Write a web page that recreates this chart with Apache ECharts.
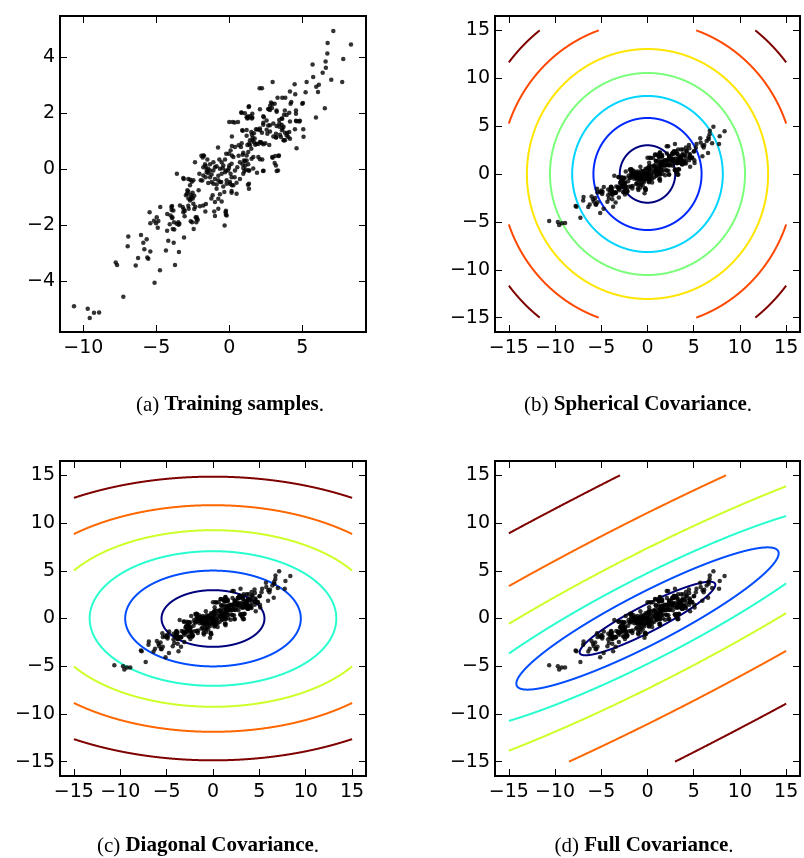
<!DOCTYPE html>
<html>
<head>
<meta charset="utf-8">
<script src="https://cdn.jsdelivr.net/npm/echarts@6/dist/echarts.min.js"></script>
<style>
  html, body { margin: 0; padding: 0; background: #fff; }
  #main { width: 804px; height: 858px; }
</style>
</head>
<body>
<div id="main"></div>
<script>
// training samples
var samples = [
  [-10.64,-4.91],[-9.70,-5.00],[-9.56,-5.33],[-9.27,-5.14],[-8.92,-5.13],
  [-7.26,-4.57],[-7.78,-3.34],[-7.69,-3.43],[-6.92,-2.41],[-6.96,-2.76],
  [-6.25,-3.18],[-6.41,-3.45],[-6.05,-2.36],[-5.89,-2.64],[-5.66,-2.51],
  [-5.82,-2.87],[-5.41,-2.95],[-5.62,-3.16],[-5.55,-3.21],[-5.12,-4.07],
  [-4.75,-3.62],[-5.46,-1.54],[-4.73,-1.36],[-5.41,-1.94],[-5.16,-1.85],
  [-5.02,-1.94],[-4.86,-1.86],[-4.90,-2.10],[-4.97,-1.72],[-4.34,-2.91],
  [-4.18,-2.56],[-3.81,-2.64],[-3.45,-2.97],[-3.72,-3.43],[-4.26,-2.21],
  [-3.87,-2.14],[-4.08,-1.97],[-4.25,-1.61],[-4.02,-1.66],[-3.90,-1.72],
  [-3.97,-1.36],[-3.95,-1.46],[-3.49,-1.90],[-3.42,-1.96],[-3.59,-0.17],
  [-3.12,-1.44],[-3.19,-1.36],[-3.05,-1.50],[-3.10,-2.45],[-2.81,-1.31],
  [-2.64,-1.87],[-2.44,-2.14],[-2.30,-1.72],[-2.26,-1.90],[-2.40,-1.43],
  [-2.80,-1.05],[-2.65,-1.07],[-2.50,-1.05],[-2.01,-1.33],[-1.64,-1.52],
  [-1.60,-1.25],[-3.12,-0.35],[-2.67,-0.38],[-2.57,-0.45],[-2.90,-0.88],
  [-2.81,-0.80],[-2.51,-0.85],[-2.40,-0.95],[-2.69,-1.12],[-2.10,-0.76],
  [-1.23,-1.05],[-1.03,-1.52],[-0.32,-2.02],[-0.23,-1.49],[-0.23,-1.63],
  [-2.16,-1.81],[-2.23,-1.72],[-3.47,-1.99],[-3.77,-2.16],
  [-3.15,-0.32],[-2.81,-0.35],[-2.46,-0.40],[-2.69,-0.58],[-2.87,-0.76],
  [-2.65,-0.92],[-2.97,-0.94],[-2.58,-1.00],[-2.46,-1.24],[-2.33,-1.35],
  [-2.78,-1.42],[-3.38,-1.30],[-3.92,-1.32],[-3.83,-1.48],[-3.15,-1.54],
  [-3.06,-1.69],[-3.92,-1.75],[-3.79,-1.90],[-3.60,-1.96],[-2.55,-1.90],
  [-2.24,-1.78],[-1.78,-1.30],[-0.98,-1.68],[-0.75,-1.42],[-1.14,-0.94],
  [-0.87,-0.70],[-0.98,-1.18],[-0.64,-0.90],[-0.34,-0.82],[-0.18,-0.40],
  [-0.55,-0.46],[-0.75,-0.40],[-1.21,-0.46],[-1.32,-0.29],[-1.55,-0.11],
  [-1.78,-0.23],[-1.96,-0.40],[-1.32,-0.05],[-0.98,0.07],[-0.64,0.01],
  [-0.41,0.13],[0.00,0.13],[-0.09,-0.05],[-0.29,-0.11],[0.39,-0.05],
  [0.05,-0.46],[0.18,-0.58],[0.50,-0.88],[0.16,-0.85],[-0.25,-1.54],
  [-0.18,-1.66],[-0.75,-1.06],[-0.52,-1.16],[-0.77,0.77],[-1.78,0.49],
  [-1.82,0.42],[-2.35,0.25],[-1.62,0.10],[-1.44,0.01],[0.18,0.83],
  [0.09,0.67],[-0.04,0.55],[0.18,0.49],[0.64,0.48],[0.92,0.51],
  [1.08,0.29],[1.10,0.13],[0.96,0.04],[1.03,-0.08],[1.33,-0.05],
  [1.99,0.43],[2.10,0.35],[2.35,-0.06],[2.95,0.43],[3.40,0.49],
  [3.20,0.13],[3.34,-0.05],[1.28,-0.56],[1.35,-0.70],[0.39,0.79],
  [0.64,0.85],[0.80,0.79],[0.96,0.59],[1.19,0.49],[1.30,0.61],
  [1.51,0.73],[1.42,0.85],[1.78,0.87],[1.99,0.90],[2.10,0.97],
  [2.24,0.93],[2.35,0.89],[1.55,1.23],[1.74,1.10],[1.60,1.02],
  [0.89,1.39],[1.19,1.40],[1.51,1.33],[1.69,1.28],[1.92,1.42],
  [2.10,1.45],[2.24,1.30],[3.47,1.23],[3.82,1.30],[4.04,1.15],
  [3.82,1.03],[4.16,1.09],[4.61,0.75],[4.61,1.71],[3.02,1.17],
  [2.56,1.41],[3.24,1.54],[3.43,1.63],[3.65,1.45],[0.00,1.69],
  [0.23,1.69],[0.60,1.69],[3.31,2.55],[3.63,2.55],[3.84,2.55],
  [2.86,2.38],[2.70,2.14],[2.79,2.12],[2.93,2.19],[4.25,2.40],
  [4.57,2.10],[4.11,2.02],[3.75,1.95],[3.59,1.81],[3.24,2.10],
  [2.10,2.14],[1.35,2.25],[0.85,2.02],[1.07,2.00],[1.44,1.90],
  [1.30,1.84],[1.55,1.81],[1.24,1.81],[2.37,1.86],[2.56,1.74],
  [2.33,1.66],[2.79,1.57],
  [7.13,4.94],[6.74,4.51],[8.34,4.46],[6.72,4.14],[7.81,3.94],
  [5.71,3.74],[6.60,3.85],[6.62,3.63],[6.40,3.45],[5.75,3.30],
  [6.99,3.20],[7.74,3.12],[5.30,3.12],[6.14,3.02],[5.96,2.95],
  [6.08,2.76],[5.23,2.75],[6.55,2.18],[5.94,1.85],[2.97,3.12],
  [4.48,3.04],[4.16,2.78],[4.52,2.68],[2.08,2.89],[2.24,2.89],
  [2.95,2.34],[2.80,2.27],[3.25,2.05],[3.81,2.10],[5.05,2.37],
  [4.57,1.98],[3.93,1.94],[3.63,1.80],[3.42,1.76],[4.57,1.73],
  [4.84,1.73],[4.50,1.43],[5.07,1.43],[5.09,1.16],[3.72,1.52],
  [3.97,1.29],[3.22,1.14],[3.54,1.15],[3.72,1.03],[3.15,0.47],
  [3.38,0.47],[2.97,0.41],[3.11,0.22],[3.25,-0.07],[2.31,-0.07],
  [1.90,-0.13],[2.26,0.34],[1.64,0.02],[1.35,-0.52],[0.16,-0.78],
  [0.82,2.03],[1.33,2.22],[1.27,1.88],[1.58,1.85],[0.37,1.67],
  [0.18,1.17],[-0.21,0.55],[-1.91,0.48],[-1.73,0.48],
  [4.20,2.34],[5.00,2.34],[3.11,2.34],[2.67,2.15],[1.58,1.98],
  [1.19,1.86],[2.33,1.89],[4.16,1.70],[4.80,1.70],[3.59,1.59],
  [3.02,1.63],[3.43,1.52],[2.67,1.56],[2.33,1.59],[1.83,1.43],
  [2.10,1.39],[2.79,1.35],[3.20,1.27],[3.61,1.39],[4.11,1.33],
  [3.93,1.20],[3.75,1.03],[3.20,1.13],[2.61,1.27],[0.92,1.37],
  [1.19,1.19],[1.60,1.11],[1.42,1.03],[1.69,0.96],[1.37,0.92],
  [1.87,0.91],[2.17,0.96],[2.47,0.93],[2.74,0.86],[1.24,0.86],
  [0.85,0.93],
  [-1.66,0.17],[-1.78,0.07],[-1.55,-0.02],[-1.44,-0.14],[-1.21,-0.19],
  [-1.09,-0.05],[-0.98,-0.35],[-0.75,-0.24],[-0.52,-0.17],[-0.45,0.03],
  [-0.23,-0.05],[-0.02,0.04],[0.09,-0.17],[0.16,-0.29],[0.37,-0.29],
  [0.55,0.07],[0.73,0.25],[0.91,0.17],[1.01,0.31],[1.19,0.31],
  [1.30,0.17],[1.53,0.37],[1.65,0.43],[0.28,0.43],[0.16,0.19],
  [-0.29,0.34],[-0.52,0.25],[-0.68,0.34],[-0.87,0.10],[-1.09,0.25],
  [-1.32,0.17],[-1.50,0.34],[-2.05,-0.17],[-1.85,-0.41],[-1.62,-0.29],
  [-1.44,-0.50],[-1.09,-0.52],[-0.87,-0.55],[-0.64,-0.46],[-0.41,-0.62],
  [-0.18,-0.52],[0.05,-0.52],[0.28,-0.58],[0.50,-0.49],[0.73,-0.35],
  [0.96,-0.17],[1.14,-0.02],[1.37,-0.05]
];

// tick labels
var ticksAx = [-10, -5, 0, 5];
var ticksAy = [-4, -2, 0, 2, 4];
var ticksBig = [-15, -10, -5, 0, 5, 10, 15];

// contour levels: semi axes (x, y) of each level, in data units
var sphericalRadii = [3.0, 5.85, 8.15, 10.55, 13.05, 15.9, 19.0];
var sphericalColors = ['#00007f', '#0028ff', '#00d4ff', '#7bff7b', '#ffe500', '#ff4800', '#7f0000'];
var diagonalA = [5.55, 9.47, 13.3, 17.86, 22.5, 28.5];
var diagonalB = [2.97, 5.02, 7.05, 9.25, 11.87, 14.86];
var fullA = [8.17, 15.8, 24.9, 38.6, 58.0, 86.2];
var fullB = [1.4, 2.7, 4.27, 6.62, 9.94, 14.77];
var fullAngle = 26.5;
var levelColors = ['#00007f', '#004cff', '#29ffce', '#ceff29', '#ff6800', '#7f0000'];

var captions = [
  ['(a) ', 'Training samples'],
  ['(b) ', 'Spherical Covariance'],
  ['(c) ', 'Diagonal Covariance'],
  ['(d) ', 'Full Covariance']
];

var LIM = 15; // contour grid only spans [-15, 15]

function minusFmt(v) {
  return String(v).replace('-', '\u2212');
}

function clipPoint(p, q) {
  // p inside, q outside -> point on box edge
  var s = 1;
  var dx = q[0] - p[0], dy = q[1] - p[1];
  if (q[0] > LIM) s = Math.min(s, (LIM - p[0]) / dx);
  if (q[0] < -LIM) s = Math.min(s, (-LIM - p[0]) / dx);
  if (q[1] > LIM) s = Math.min(s, (LIM - p[1]) / dy);
  if (q[1] < -LIM) s = Math.min(s, (-LIM - p[1]) / dy);
  return [p[0] + s * dx, p[1] + s * dy];
}

function inBox(p) {
  return Math.abs(p[0]) <= LIM && Math.abs(p[1]) <= LIM;
}

function ellipseRenderer(colors) {
  return function (params, api) {
    var a = api.value(0), b = api.value(1), t = api.value(2) * Math.PI / 180;
    var N = 4000;
    var pts = [];
    for (var k = 0; k < N; k++) {
      var phi = 2 * Math.PI * k / N;
      var u = a * Math.cos(phi), v = b * Math.sin(phi);
      pts.push([u * Math.cos(t) - v * Math.sin(t), u * Math.sin(t) + v * Math.cos(t)]);
    }
    var start = -1;
    for (var k = 0; k < N; k++) { if (!inBox(pts[k])) { start = k; break; } }
    var runs = [];
    if (start < 0) {
      pts.push(pts[0]);
      runs.push(pts);
    } else {
      var cur = null;
      for (var j = 0; j <= N; j++) {
        var p = pts[(start + j) % N];
        var prev = pts[(start + j - 1 + N) % N];
        if (inBox(p)) {
          if (!cur) { cur = [clipPoint(p, prev)]; }
          cur.push(p);
        } else if (cur) {
          cur.push(clipPoint(prev, p));
          runs.push(cur);
          cur = null;
        }
      }
    }
    var color = colors[params.dataIndex];
    return {
      type: 'group',
      children: runs.map(function (run) {
        return {
          type: 'polyline',
          shape: { points: run.map(function (d) { return api.coord(d); }) },
          style: { stroke: color, lineWidth: 2, fill: null }
        };
      })
    };
  };
}

var labelFont = { color: '#000', fontFamily: 'DejaVu Sans', fontSize: 19 };

function makeX(g, min, max, ticks) {
  var tick = { show: true, inside: true, length: 7, customValues: ticks, lineStyle: { color: '#000', width: 1 } };
  return [
    { type: 'value', gridIndex: g, position: 'bottom', min: min, max: max,
      axisLine: { show: false, onZero: false }, splitLine: { show: false }, axisTick: tick,
      axisLabel: Object.assign({ show: true, customValues: ticks, margin: 7, formatter: minusFmt }, labelFont) },
    { type: 'value', gridIndex: g, position: 'top', min: min, max: max,
      axisLine: { show: false, onZero: false }, splitLine: { show: false }, axisTick: tick, axisLabel: { show: false } }
  ];
}

function makeY(g, min, max, ticks) {
  var tick = { show: true, inside: true, length: 7, customValues: ticks, lineStyle: { color: '#000', width: 1 } };
  return [
    { type: 'value', gridIndex: g, position: 'left', min: min, max: max,
      axisLine: { show: false, onZero: false }, splitLine: { show: false }, axisTick: tick,
      axisLabel: Object.assign({ show: true, customValues: ticks, margin: 5, formatter: minusFmt }, labelFont) },
    { type: 'value', gridIndex: g, position: 'right', min: min, max: max,
      axisLine: { show: false, onZero: false }, splitLine: { show: false }, axisTick: tick, axisLabel: { show: false } }
  ];
}

var gridStyle = { show: true, borderColor: '#000', borderWidth: 2 };
var grids = [
  Object.assign({ left: 60, top: 16, width: 306, height: 316 }, gridStyle),
  Object.assign({ left: 495, top: 16, width: 305, height: 316 }, gridStyle),
  Object.assign({ left: 60, top: 461, width: 306, height: 315 }, gridStyle),
  Object.assign({ left: 495, top: 461, width: 305, height: 315 }, gridStyle)
];

var xAxes = [].concat(
  makeX(0, -11.6, 9.37, ticksAx),
  makeX(1, -16.5, 16.5, ticksBig),
  makeX(2, -16.5, 16.5, ticksBig),
  makeX(3, -16.5, 16.5, ticksBig)
);
var yAxes = [].concat(
  makeY(0, -5.83, 5.48, ticksAy),
  makeY(1, -16.5, 16.5, ticksBig),
  makeY(2, -16.5, 16.5, ticksBig),
  makeY(3, -16.5, 16.5, ticksBig)
);

var series = [];
series.push({ type: 'custom', xAxisIndex: 2, yAxisIndex: 2, z: 2, silent: true,
  renderItem: ellipseRenderer(sphericalColors),
  data: sphericalRadii.map(function (r) { return [r, r, 0]; }) });
series.push({ type: 'custom', xAxisIndex: 4, yAxisIndex: 4, z: 2, silent: true,
  renderItem: ellipseRenderer(levelColors),
  data: diagonalA.map(function (a, i) { return [a, diagonalB[i], 0]; }) });
series.push({ type: 'custom', xAxisIndex: 6, yAxisIndex: 6, z: 2, silent: true,
  renderItem: ellipseRenderer(levelColors),
  data: fullA.map(function (a, i) { return [a, fullB[i], fullAngle]; }) });
for (var g = 0; g < 4; g++) {
  series.push({ type: 'scatter', xAxisIndex: 2 * g, yAxisIndex: 2 * g, z: 3,
    symbol: 'circle', symbolSize: 4.5, itemStyle: { color: '#000' }, data: samples });
}

var capPos = [[230, 405], [638, 405], [208, 846], [644, 846]];
var graphics = captions.map(function (c, i) {
  return {
    type: 'text', x: capPos[i][0], y: capPos[i][1],
    style: {
      text: '{n|' + c[0] + '}{b|' + c[1] + '}{n|.}',
      align: 'center', verticalAlign: 'middle',
      rich: {
        n: { fontFamily: 'Liberation Serif', fontSize: 21, fill: '#000' },
        b: { fontFamily: 'Liberation Serif', fontSize: 21, fontWeight: 'bold', fill: '#000' }
      }
    }
  };
});

var myChart = echarts.init(document.getElementById('main'));
var option = {
  animation: false,
  backgroundColor: '#fff',
  grid: grids,
  xAxis: xAxes,
  yAxis: yAxes,
  graphic: graphics,
  series: series
};
option && myChart.setOption(option);
</script>
</body>
</html>
